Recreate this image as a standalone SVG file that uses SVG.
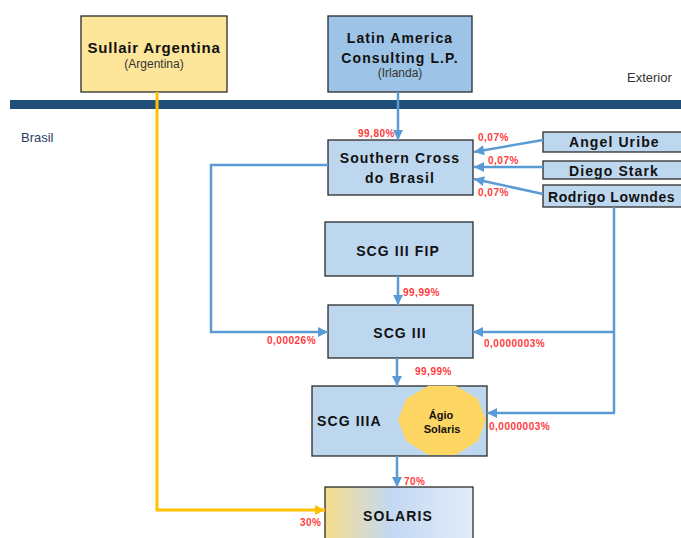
<svg xmlns="http://www.w3.org/2000/svg" width="681" height="538" viewBox="0 0 681 538">
<defs>
<style>
.box{fill:#bdd7ee;stroke:#2b2b2b;stroke-width:1.3}
.t{font-family:"Liberation Sans",Arial,sans-serif;font-weight:bold;font-size:14px;letter-spacing:1.1px;fill:#111;text-anchor:middle}
.s{font-family:"Liberation Sans",Arial,sans-serif;font-size:12px;fill:#333;text-anchor:middle}
.r{font-family:"Liberation Sans",Arial,sans-serif;font-weight:bold;font-size:10px;letter-spacing:0.5px;fill:#ff3b3b}
.c{fill:none;stroke:#5b9bd5;stroke-width:2.5}
.y{fill:none;stroke:#ffc000;stroke-width:3}
</style>
<marker id="ab" viewBox="0 0 10 10" refX="10" refY="5" markerWidth="11" markerHeight="10" markerUnits="userSpaceOnUse" orient="auto"><path d="M0,0 L10,5 L0,10 z" fill="#5b9bd5"/></marker>
<marker id="ay" viewBox="0 0 10 10" refX="10" refY="5" markerWidth="11" markerHeight="10" markerUnits="userSpaceOnUse" orient="auto"><path d="M0,0 L10,5 L0,10 z" fill="#ffc000"/></marker>
<linearGradient id="sg" x1="0" y1="0" x2="1" y2="0">
<stop offset="0" stop-color="#f7dd8c"/>
<stop offset="0.45" stop-color="#c3d8f3"/>
<stop offset="1" stop-color="#e2ecf9"/>
</linearGradient>
</defs>
<rect x="0" y="0" width="681" height="538" fill="#fff"/>
<rect x="10" y="100" width="671" height="9" fill="#1f4e79"/>
<text x="627" y="82" font-family="Liberation Sans,Arial,sans-serif" font-size="13" fill="#333">Exterior</text>
<text x="21" y="142" font-family="Liberation Sans,Arial,sans-serif" font-size="13" fill="#2b3f66">Brasil</text>

<g id="sullair">
<rect x="81" y="16" width="146" height="76" fill="#fde59a" stroke="#2b2b2b" stroke-width="1.3"/>
<text class="t" x="154" y="53" style="font-size:15px;letter-spacing:0.8px">Sullair Argentina</text>
<text class="s" x="154" y="68">(Argentina)</text>
</g>
<g id="latin">
<rect x="328" y="16" width="144" height="76" fill="#9dc3e6" stroke="#2b2b2b" stroke-width="1.3"/>
<text class="t" x="400" y="43">Latin America</text>
<text class="t" x="400" y="63">Consulting L.P.</text>
<text class="s" x="400" y="77">(Irlanda)</text>
</g>
<g id="southern">
<rect class="box" x="328" y="140" width="145" height="55"/>
<text class="t" x="400" y="163">Southern Cross</text>
<text class="t" x="400" y="183">do Brasil</text>
</g>
<g id="angel">
<rect class="box" x="543" y="132" width="150" height="20"/>
<text class="t" x="569" y="147" style="text-anchor:start">Angel Uribe</text>
</g>
<g id="diego">
<rect class="box" x="543" y="161" width="150" height="18"/>
<text class="t" x="569" y="176" style="text-anchor:start">Diego Stark</text>
</g>
<g id="rodrigo">
<rect class="box" x="543" y="185" width="150" height="22"/>
<text class="t" x="548" y="202" style="text-anchor:start;letter-spacing:0.6px">Rodrigo Lowndes</text>
</g>
<g id="scg3fip">
<rect class="box" x="325" y="222" width="148" height="54"/>
<text class="t" x="398" y="256">SCG III FIP</text>
</g>
<g id="scg3">
<rect class="box" x="328" y="305" width="145" height="53"/>
<text class="t" x="400" y="338">SCG III</text>
</g>
<g id="scg3a">
<rect class="box" x="312" y="386" width="175" height="70"/>
<text class="t" x="317" y="426" style="text-anchor:start">SCG IIIA</text>
<polygon points="486,420 477.6,441.2 455.6,455 428.4,455 406.4,441.2 398,420 406.4,398.8 428.4,385.8 455.6,385.8 477.6,398.8" fill="#fdd663"/>
<text class="t" x="441" y="419" style="font-size:11px;letter-spacing:0px">Ágio</text>
<text class="t" x="442" y="433" style="font-size:11px;letter-spacing:0px">Solaris</text>
</g>
<g id="solaris">
<rect x="325" y="487" width="148" height="60" fill="url(#sg)" stroke="#2b2b2b" stroke-width="1.3"/>
<text class="t" x="398" y="521">SOLARIS</text>
</g>

<g id="connectors">
<path class="y" d="M157,92 V510 H325" marker-end="url(#ay)"/>
<path class="c" d="M398,92 V140" marker-end="url(#ab)"/>
<path class="c" d="M543,140 L474,152" marker-end="url(#ab)"/>
<path class="c" d="M543,167 H474" marker-end="url(#ab)"/>
<path class="c" d="M543,194 L474,179" marker-end="url(#ab)"/>
<path class="c" d="M328,165 H211 V332 H328" marker-end="url(#ab)"/>
<path class="c" d="M398,276 V305" marker-end="url(#ab)"/>
<path class="c" d="M614,207 V413"/>
<path class="c" d="M615,332 H473" marker-end="url(#ab)"/>
<path class="c" d="M615,413 H487" marker-end="url(#ab)"/>
<path class="c" d="M397,358 V386" marker-end="url(#ab)"/>
<path class="c" d="M397,456 V487" marker-end="url(#ab)"/>
</g>

<g id="labels">
<text class="r" x="358" y="137">99,80%</text>
<text class="r" x="478" y="141">0,07%</text>
<text class="r" x="488" y="164">0,07%</text>
<text class="r" x="478" y="196">0,07%</text>
<text class="r" x="403" y="296">99,99%</text>
<text class="r" x="267" y="344">0,00026%</text>
<text class="r" x="484" y="347">0,0000003%</text>
<text class="r" x="415" y="375">99,99%</text>
<text class="r" x="489" y="430">0,0000003%</text>
<text class="r" x="404" y="485">70%</text>
<text class="r" x="300" y="526">30%</text>
</g>
</svg>
